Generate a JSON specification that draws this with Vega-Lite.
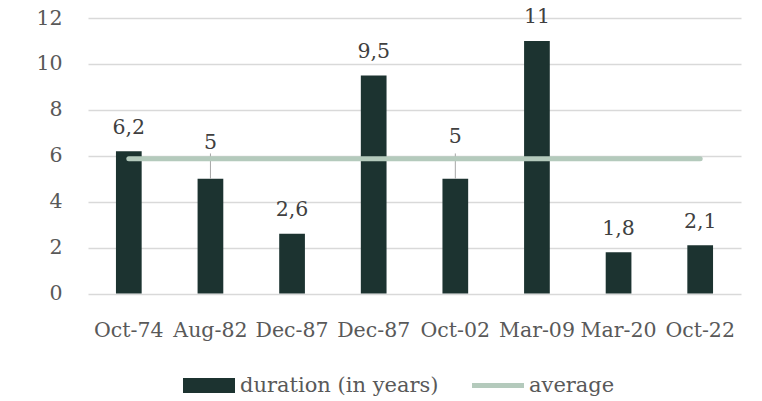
{
  "$schema": "https://vega.github.io/schema/vega-lite/v6.json",
  "autosize": "none",
  "width": 653,
  "height": 275.5,
  "padding": {"left": 88, "top": 18, "right": 21, "bottom": 107.5},
  "background": "white",
  "config": {
    "view": {"stroke": null},
    "locale": {"number": {"decimal": ",", "thousands": ".", "grouping": [3], "currency": ["", " €"]}},
    "font": "DejaVu Serif"
  },
  "data": {
    "values": [
      {"date": "Oct-74", "duration": 6.2, "average": 5.87, "series": "duration (in years)", "avgseries": "average"},
      {"date": "Aug-82", "duration": 5, "average": 5.87, "series": "duration (in years)", "avgseries": "average"},
      {"date": "Dec-87", "duration": 2.6, "average": 5.87, "series": "duration (in years)", "avgseries": "average"},
      {"date": "Dec-87\u200b", "duration": 9.5, "average": 5.87, "series": "duration (in years)", "avgseries": "average"},
      {"date": "Oct-02", "duration": 5, "average": 5.87, "series": "duration (in years)", "avgseries": "average"},
      {"date": "Mar-09", "duration": 11, "average": 5.87, "series": "duration (in years)", "avgseries": "average"},
      {"date": "Mar-20", "duration": 1.8, "average": 5.87, "series": "duration (in years)", "avgseries": "average"},
      {"date": "Oct-22", "duration": 2.1, "average": 5.87, "series": "duration (in years)", "avgseries": "average"}
    ]
  },
  "encoding": {
    "x": {
      "field": "date", "type": "nominal", "sort": null,
      "scale": {"paddingInner": 0.685, "paddingOuter": 0.3425},
      "axis": {
        "title": null, "labelAngle": 0, "domain": false, "ticks": false, "grid": false,
        "labelFont": "DejaVu Serif", "labelFontSize": 20.5, "labelColor": "#595959",
        "labelPadding": 27, "labelBaseline": "top", "labelLimit": 0
      }
    }
  },
  "layer": [
    {
      "mark": {"type": "bar"},
      "encoding": {
        "y": {
          "field": "duration", "type": "quantitative",
          "scale": {"domain": [0, 12], "nice": false},
          "axis": {
            "title": null, "values": [0, 2, 4, 6, 8, 10, 12], "domain": false, "ticks": false,
            "grid": true, "gridColor": "#D9D9D9", "gridWidth": 1.3,
            "labelFont": "DejaVu Serif", "labelFontSize": 20.5, "labelColor": "#595959", "labelPadding": 26
          }
        },
        "color": {
          "field": "series", "type": "nominal",
          "scale": {"domain": ["duration (in years)", "average"], "range": ["#1C3330", "#B4CABC"]},
          "legend": {
            "orient": "none", "legendX": 95, "legendY": 341.5, "direction": "horizontal", "title": null,
            "symbolSize": 2704, "labelFont": "DejaVu Serif", "labelFontSize": 21, "labelColor": "#595959",
            "labelOffset": 5, "columnPadding": 33, "padding": 0, "labelLimit": 0,
            "encode": {
              "symbols": {
                "update": {
                  "shape": [{"test": "datum.value === 'average'", "value": "M-1,-0.1H1V0.1H-1Z"}, {"value": "M-1,-0.29H1V0.29H-1Z"}],
                  "fill": [{"test": "datum.value === 'average'", "value": "#B4CABC"}, {"value": "#1C3330"}],
                  "stroke": {"value": "transparent"},
                  "strokeWidth": {"value": 0},
                  "opacity": {"value": 1},
                  "fillOpacity": {"value": 1}
                }
              }
            }
          }
        }
      }
    },
    {
      "transform": [{"filter": "datum.date === 'Aug-82' || datum.date === 'Oct-02'"}],
      "mark": {"type": "rule", "color": "#A6A6A6", "strokeWidth": 1},
      "encoding": {
        "y": {"field": "duration", "type": "quantitative"},
        "y2": {"datum": 6.1}
      }
    },
    {
      "mark": {"type": "line", "strokeWidth": 5, "strokeCap": "round", "color": "#B4CABC"},
      "encoding": {
        "y": {"field": "average", "type": "quantitative"}
      }
    },
    {
      "transform": [{"filter": "datum.date !== 'Aug-82' && datum.date !== 'Oct-02'"}],
      "mark": {"type": "text", "baseline": "alphabetic", "dy": -17.5, "font": "DejaVu Serif", "fontSize": 20.5, "color": "#404040"},
      "encoding": {
        "y": {"field": "duration", "type": "quantitative"},
        "text": {"field": "duration", "type": "quantitative", "format": "~g"}
      }
    },
    {
      "transform": [{"filter": "datum.date === 'Aug-82'"}],
      "mark": {"type": "text", "baseline": "alphabetic", "dy": -30, "font": "DejaVu Serif", "fontSize": 20.5, "color": "#404040"},
      "encoding": {
        "y": {"field": "duration", "type": "quantitative"},
        "text": {"field": "duration", "type": "quantitative", "format": "~g"}
      }
    },
    {
      "transform": [{"filter": "datum.date === 'Oct-02'"}],
      "mark": {"type": "text", "baseline": "alphabetic", "dy": -36, "font": "DejaVu Serif", "fontSize": 20.5, "color": "#404040"},
      "encoding": {
        "y": {"field": "duration", "type": "quantitative"},
        "text": {"field": "duration", "type": "quantitative", "format": "~g"}
      }
    }
  ]
}
